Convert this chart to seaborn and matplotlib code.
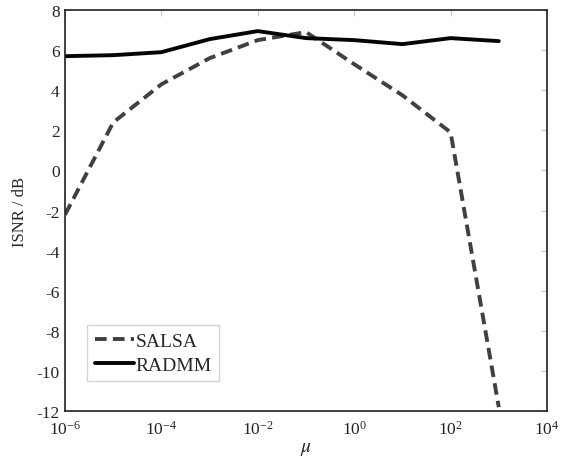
import numpy as np
import pandas as pd
import matplotlib
matplotlib.use("Agg")
import matplotlib.pyplot as plt
import seaborn as sns

# values
mu = [1e-6, 1e-5, 1e-4, 1e-3, 1e-2, 1e-1, 1e0, 1e1, 1e2, 1e3]
salsa = [-2.2, 2.4, 4.3, 5.6, 6.5, 6.9, 5.3, 3.75, 1.9, -11.8]
radmm = [5.7, 5.75, 5.9, 6.55, 6.95, 6.6, 6.5, 6.3, 6.6, 6.45]
yticks = list(range(-12, 9, 2))

df = pd.DataFrame({
    "mu": mu * 2,
    "isnr": salsa + radmm,
    "method": ["SALSA"] * len(mu) + ["RADMM"] * len(mu),
})

sns.set_style("white")
plt.rcParams["font.family"] = ["Liberation Serif", "DejaVu Serif"]
plt.rcParams["mathtext.fontset"] = "stix"

fig = plt.figure(figsize=(5.61, 4.6), dpi=100)
ax = fig.add_axes([0.116, 0.104, 0.859, 0.872])

ax = sns.lineplot(data=df, x="mu", y="isnr", hue="method", style="method",
                  palette={"SALSA": "#404040", "RADMM": "#050505"},
                  dashes={"SALSA": (3, 1.6), "RADMM": ""},
                  linewidth=2.8, ax=ax)
ax.set_xscale("log")
ax.set_xlim(1e-6, 1e4)
ax.set_ylim(-12, 8)
ax.set_xticks([1e-6, 1e-4, 1e-2, 1e0, 1e2, 1e4])
ax.set_yticks(yticks)
ax.set_yticklabels([str(v) for v in yticks])
ax.minorticks_off()
ax.tick_params(direction="in", length=4, color="#c8c8c8", labelsize=12.5,
               top=True, right=True)
ax.tick_params(axis="x", pad=6)
ax.tick_params(axis="y", pad=4)
for s in ax.spines.values():
    s.set_color("#202020")
    s.set_linewidth(1.2)
ax.set_xlabel(r"$\mu$", fontsize=14, labelpad=2)
ax.set_ylabel("ISNR / dB", fontsize=12, labelpad=6)

leg = ax.legend(loc="lower left", bbox_to_anchor=(0.025, 0.05), fontsize=14,
                frameon=True, fancybox=False, handlelength=2.0,
                handletextpad=0.1, borderpad=0.4, labelspacing=0.3)
leg.get_frame().set_edgecolor("#c8c8c8")
leg.get_frame().set_linewidth(1.0)

fig.savefig("out.png", dpi=100)
